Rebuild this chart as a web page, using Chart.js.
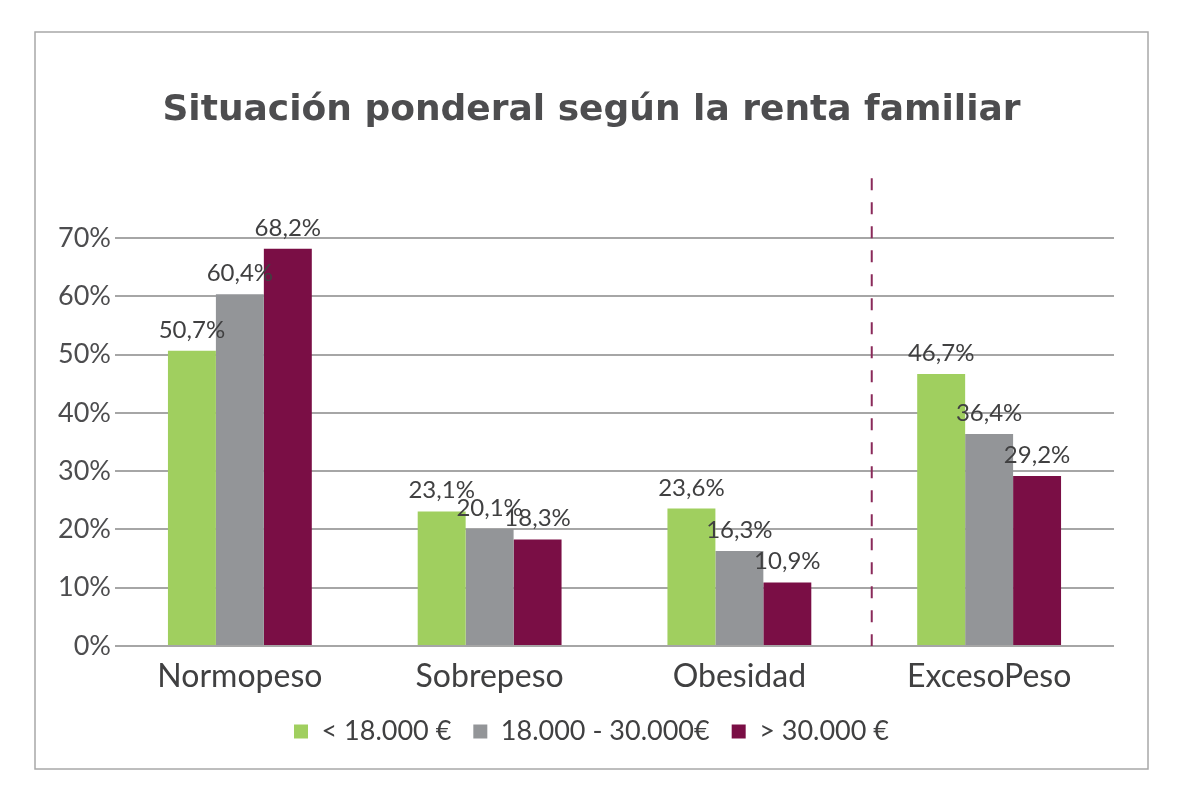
<!DOCTYPE html>
<html>
<head>
<meta charset="utf-8">
<script src="https://cdn.jsdelivr.net/npm/chart.js@4.4.1/dist/chart.umd.min.js"></script>
<style>
  html, body { margin: 0; padding: 0; background: #ffffff; }
  #wrap { width: 1183px; height: 801px; }
</style>
</head>
<body>
<div id="wrap"><canvas id="graficoRenta"></canvas></div>
<script>
// Datos
const categorias = ["Normopeso", "Sobrepeso", "Obesidad", "ExcesoPeso"];
const rentaBaja = [50.7, 23.1, 23.6, 46.7];   // < 18.000 €
const rentaMedia = [60.4, 20.1, 16.3, 36.4];  // 18.000 - 30.000€
const rentaAlta = [68.2, 18.3, 10.9, 29.2];   // > 30.000 €
const etiquetasSeries = ["< 18.000 €", "18.000 - 30.000€", "> 30.000 €"];
const ticksY = [0, 10, 20, 30, 40, 50, 60, 70];

const colores = ["#a0cf5f", "#939598", "#7a0e45"];
const fuente = "Lato, 'Open Sans', sans-serif";

// marco exterior gris
const marco = {
    id: "marco",
    beforeDraw(chart) {
        const ctx = chart.ctx;
        ctx.save();
        ctx.fillStyle = "#ffffff";
        ctx.fillRect(0, 0, chart.width, chart.height);
        ctx.strokeStyle = "#a8a8a8";
        ctx.lineWidth = 1.5;
        ctx.strokeRect(35, 32, 1113, 737);
        ctx.restore();
    }
};

// etiquetas con el valor encima de cada barra
const etiquetasValor = {
    id: "etiquetasValor",
    afterDatasetsDraw(chart) {
        const ctx = chart.ctx;
        ctx.save();
        ctx.font = "24px " + fuente;
        ctx.fillStyle = "#404041";
        ctx.textAlign = "center";
        ctx.textBaseline = "alphabetic";
        chart.data.datasets.forEach((ds, i) => {
            const meta = chart.getDatasetMeta(i);
            meta.data.forEach((bar, j) => {
                const txt = ds.data[j].toFixed(1).replace(".", ",") + "%";
                ctx.fillText(txt, bar.x, bar.y - 13);
            });
        });
        ctx.restore();
    }
};

// línea discontinua que separa ExcesoPeso
const separador = {
    id: "separador",
    afterDatasetsDraw(chart) {
        const ctx = chart.ctx;
        const x = chart.scales.x.getPixelForValue(2.53);
        const area = chart.chartArea;
        ctx.save();
        ctx.strokeStyle = "#8a2a5a";
        ctx.lineWidth = 2;
        ctx.setLineDash([12, 12]);
        ctx.beginPath();
        ctx.moveTo(x, area.top - 60);
        ctx.lineTo(x, area.bottom);
        ctx.stroke();
        ctx.restore();
    }
};

new Chart(document.getElementById("graficoRenta"), {
    type: "bar",
    data: {
        labels: categorias,
        datasets: [
            { label: etiquetasSeries[0], data: rentaBaja, backgroundColor: colores[0] },
            { label: etiquetasSeries[1], data: rentaMedia, backgroundColor: colores[1] },
            { label: etiquetasSeries[2], data: rentaAlta, backgroundColor: colores[2] }
        ]
    },
    options: {
        responsive: true,
        maintainAspectRatio: false,
        animation: false,
        layout: {
            padding: { left: 0, right: 0, top: 0, bottom: 46 }
        },
        datasets: {
            bar: { categoryPercentage: 0.576, barPercentage: 1.0 }
        },
        plugins: {
            title: {
                display: true,
                text: "Situación ponderal según la renta familiar",
                color: "#4d4d4f",
                font: { family: "'DejaVu Sans', sans-serif", size: 36, weight: "bold" },
                padding: { top: 89, bottom: 106 }
            },
            legend: {
                position: "bottom",
                labels: {
                    color: "#404041",
                    font: { family: fuente, size: 27 },
                    boxWidth: 14,
                    boxHeight: 14,
                    padding: 22
                }
            },
            tooltip: { enabled: false }
        },
        scales: {
            x: {
                grid: { display: false },
                border: { display: false },
                afterFit(scale) { scale.height = 50; },
                ticks: {
                    color: "#404041",
                    font: { family: fuente, size: 32 },
                    padding: 3
                }
            },
            y: {
                min: 0,
                max: 70,
                afterFit(scale) { scale.width = 115; },
                afterBuildTicks(scale) {
                    scale.ticks = ticksY.map(v => ({ value: v }));
                },
                border: { display: false },
                grid: {
                    color: "#a6a6a6",
                    lineWidth: 2,
                    drawTicks: false
                },
                ticks: {
                    color: "#4d4d4f",
                    font: { family: fuente, size: 27 },
                    padding: 4,
                    callback: v => v + "%"
                }
            },
            // eje vacío a la derecha, sólo reserva el margen
            derecha: {
                type: "linear",
                position: "right",
                afterFit(scale) { scale.width = 69; },
                grid: { display: false },
                border: { display: false },
                ticks: { display: false }
            }
        }
    },
    plugins: [marco, etiquetasValor, separador]
});
</script>
</body>
</html>
